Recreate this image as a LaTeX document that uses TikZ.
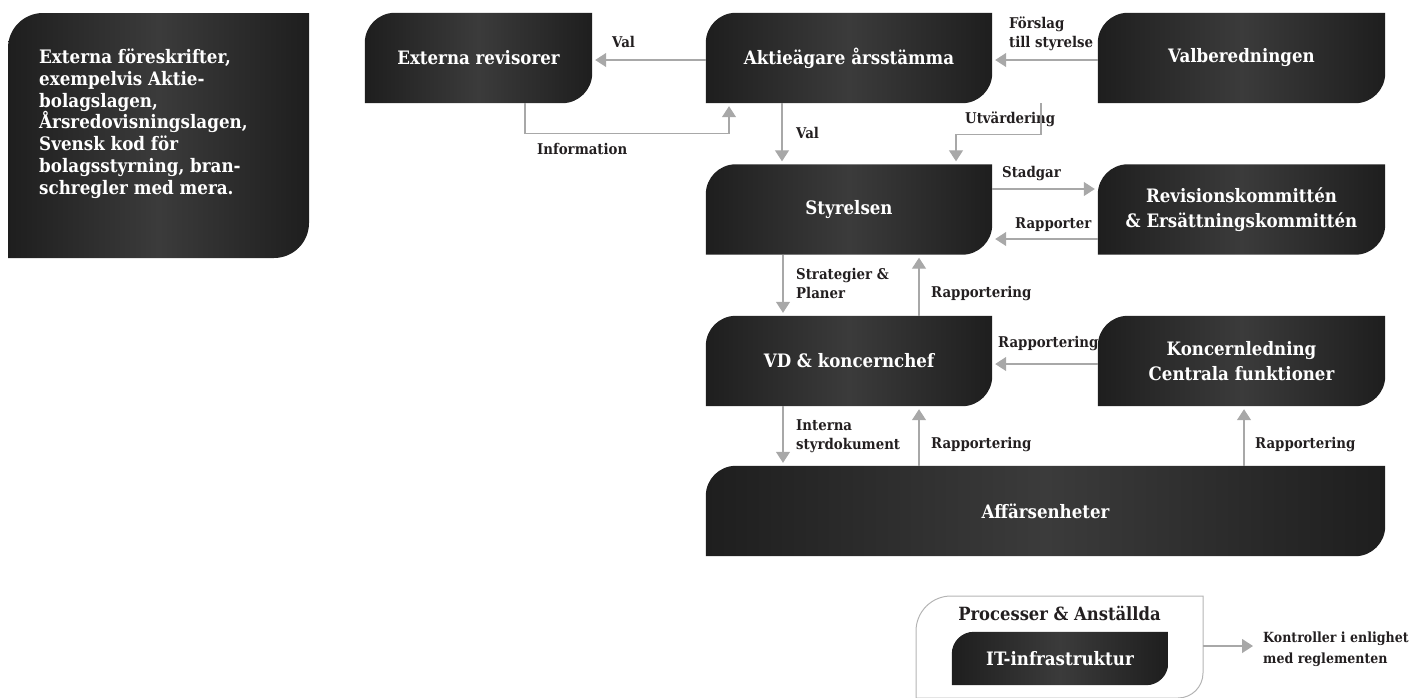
\documentclass[tikz,border=0pt]{standalone}
\usepackage{fontspec}
\usetikzlibrary{arrows.meta,backgrounds,calc}
\newfontfamily\slab{DejaVu Serif}[FakeStretch=0.9]
\definecolor{boxdark}{HTML}{1E1E1E}
\definecolor{boxmid}{HTML}{3B3B3B}
\definecolor{pilgra}{HTML}{A8A8A8}
\definecolor{texta}{HTML}{231F20}
\definecolor{ramgra}{HTML}{B4B4B4}
\newcommand{\ruta}[3]{%
  \shade[left color=boxdark, right color=boxdark, middle color=boxmid]
    let \p1=#1, \p2=#2 in (\x1,\y1) -- (\x1,\y2-#3)
    arc[start angle=180, end angle=90, radius=#3] -- (\x2,\y2)
    -- (\x2,\y1+#3) arc[start angle=0, end angle=-90, radius=#3] -- cycle;}
\begin{document}
\begin{tikzpicture}[
      x=1pt, y=-1pt,
      node distance=151.5pt,
      rutan/.style={
        text=white,
        font=\slab\bfseries\fontsize{18.5}{25}\selectfont,
        align=center,
        inner sep=0pt,
        minimum width=286pt,
        minimum height=90pt
      },
      etikett/.style={
        text=texta,
        font=\slab\bfseries\fontsize{14.8}{19}\selectfont,
        align=left,
        inner sep=0pt
      },
      pil/.style={
        draw=pilgra,
        line width=1.3pt,
        -{Triangle[length=11pt,width=14pt]},
        shorten >=3pt
      }
    ]
    \useasboundingbox (0,0) rectangle (1415,697);
    \node[rutan] (stamma) at (849,58) {Aktieägare årsstämma};
    \node[rutan, below of=stamma] (styrelse) {Styrelsen};
    \node[rutan, below of=styrelse] (vd) {VD \& koncernchef};
    \node[rutan, minimum width=287pt, node distance=392.5pt, right of=stamma] (valber) {Valberedningen};
    \node[rutan, minimum width=287pt, node distance=392.5pt, right of=styrelse] (kommitte) {Revisionskommittén\\\& Ersättningskommittén};
    \node[rutan, minimum width=287pt, node distance=392.5pt, right of=vd] (koncern) {Koncernledning\\Centrala funktioner};
    \node[rutan, minimum width=227pt] (revisor) at (478.5,58) {Externa revisorer};
    \node[rutan, minimum width=679pt] (affar) at (1045.5,511) {Affärsenheter};
    \node[rutan, minimum width=216pt, minimum height=53pt] (itinfra) at (1060,658.5) {IT-infrastruktur};
    \node[rutan, minimum width=0pt, minimum height=0pt, align=left,
      font=\slab\bfseries\fontsize{18.6}{21.7}\selectfont, anchor=north west] (extern) at (39,49)
      {Externa föreskrifter,\\exempelvis Aktie-\\bolagslagen,\\Årsredovisningslagen,\\Svensk kod för\\bolagsstyrning, bran-\\schregler med mera.};
    \node[etikett, font=\slab\bfseries\fontsize{18.2}{22}\selectfont, anchor=base] (process) at (1059.5,620) {Processer \& Anställda};

    \node[etikett, anchor=base west] (lval) at (612,47) {Val};
    \node[etikett, anchor=base west] (linfo) at (537,154) {Information};
    \node[etikett, anchor=north west] (lforslag) at (1009,17) {Förslag\\till styrelse};
    \node[etikett, anchor=base west] (lval2) at (796,138) {Val};
    \node[etikett, anchor=base west] (lutv) at (965,123) {Utvärdering};
    \node[etikett, anchor=base west] (lstadgar) at (1002,177) {Stadgar};
    \node[etikett, anchor=base west] (lrapp) at (1015,228) {Rapporter};
    \node[etikett, anchor=north west] (lstrat) at (796,268) {Strategier \&\\Planer};
    \node[etikett, anchor=base west] (lrapp1) at (931,297) {Rapportering};
    \node[etikett, anchor=base west] (lrapp2) at (998,347) {Rapportering};
    \node[etikett, anchor=north west] (linterna) at (796,419.5) {Interna\\styrdokument};
    \node[etikett, anchor=base west] (lrapp3) at (931,448) {Rapportering};
    \node[etikett, anchor=base west] (lrapp4) at (1255,448) {Rapportering};
    \node[etikett, anchor=north west, font=\slab\bfseries\fontsize{14}{21}\selectfont] (kontroll) at (1263,631.5) {Kontroller i enlighet\\med reglementen};
    \coordinate (ramkant) at (1203,646);

    \begin{scope}[on background layer]
      \ruta{(8,258)}{(309,13)}{35pt}
      \ruta{(revisor.south west)}{(revisor.north east)}{30pt}
      \ruta{(stamma.south west)}{(stamma.north east)}{30pt}
      \ruta{(valber.south west)}{(valber.north east)}{30pt}
      \ruta{(styrelse.south west)}{(styrelse.north east)}{30pt}
      \ruta{(kommitte.south west)}{(kommitte.north east)}{30pt}
      \ruta{(vd.south west)}{(vd.north east)}{30pt}
      \ruta{(koncern.south west)}{(koncern.north east)}{30pt}
      \ruta{(affar.south west)}{(affar.north east)}{30pt}
      \ruta{(itinfra.south west)}{(itinfra.north east)}{22pt}
      \clip (0,0) rectangle (1415,697);
      \draw[draw=ramgra, line width=1pt] (916,698) -- (916,631)
        arc[start angle=180, end angle=90, radius=35pt] -- (1203,596) -- (1203,673)
        arc[start angle=0, end angle=-90, radius=25pt] -- cycle;
    \end{scope}

    \draw[pil] ([yshift=-2pt]stamma.west) -- ([yshift=-2pt]revisor.east);
    \draw[pil] ([xshift=46.5pt]revisor.south) -- ++(0,30) -| ([xshift=-120pt]stamma.south);
    \draw[pil] ([yshift=-2pt]valber.west) -- ([yshift=-2pt]stamma.east);
    \draw[pil] ([xshift=-67pt]stamma.south) -- ([xshift=-67pt]styrelse.north);
    \draw[pil] ([xshift=-200.5pt]valber.south) -- ++(0,31) -| ([xshift=107pt]styrelse.north);
    \draw[pil] ([yshift=20.5pt]styrelse.east) -- ([yshift=20.5pt]kommitte.west);
    \draw[pil] ([yshift=-29.5pt]kommitte.west) -- ([yshift=-29.5pt]styrelse.east);
    \draw[pil] ([xshift=-66pt]styrelse.south) -- ([xshift=-66pt]vd.north);
    \draw[pil] ([xshift=70pt]vd.north) -- ([xshift=70pt]styrelse.south);
    \draw[pil] ([yshift=-3pt]koncern.west) -- ([yshift=-3pt]vd.east);
    \draw[pil] ([xshift=-66pt]vd.south) -- ([xshift=-66pt]vd.south |- affar.north);
    \draw[pil] ([xshift=70pt]vd.south |- affar.north) -- ([xshift=70pt]vd.south);
    \draw[pil] ([xshift=2.5pt]koncern.south |- affar.north) -- ([xshift=2.5pt]koncern.south);
    \draw[pil, shorten >=10pt] (ramkant) -- (kontroll.west |- ramkant);
  \end{tikzpicture}
\end{document}
